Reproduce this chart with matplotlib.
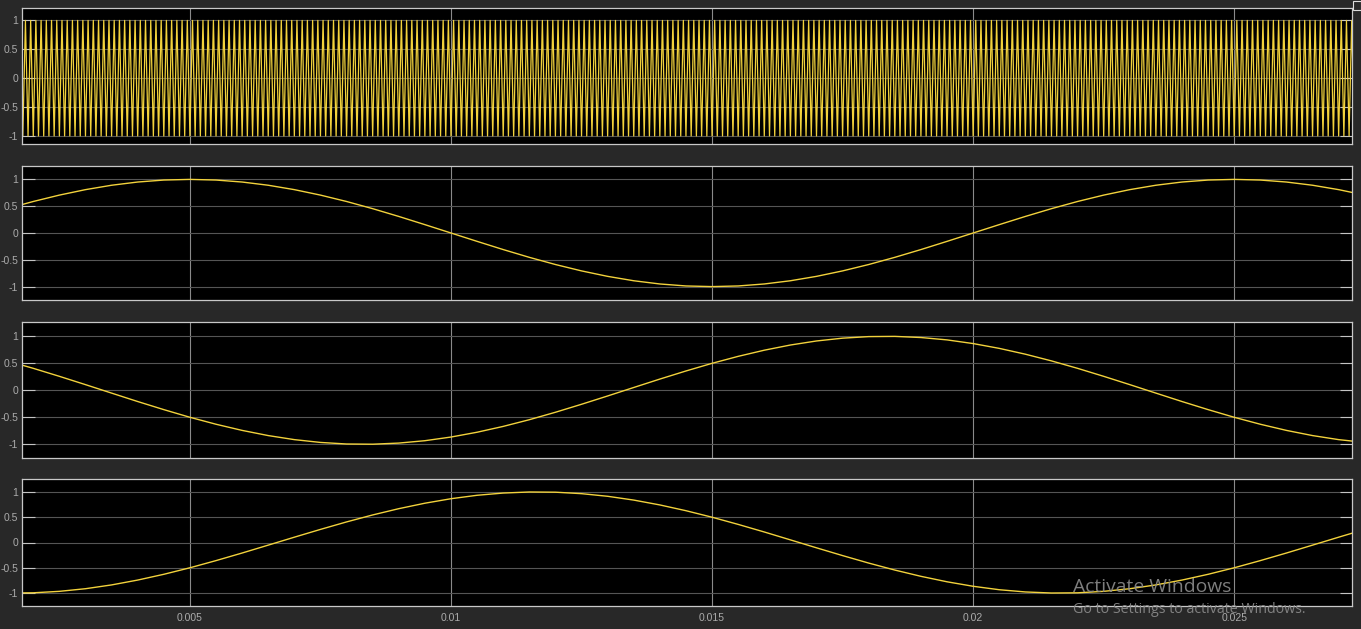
import numpy as np
import matplotlib
matplotlib.use("Agg")
from matplotlib import pyplot as plt
from matplotlib.patches import Rectangle

# sample times of the three phase signals (s), one every 0.5 ms
t = np.arange(1.5, 28.0, 0.5) * 1e-3

# phase a (panel 2)
va = [0.454, 0.588, 0.707, 0.809, 0.891, 0.951, 0.988, 1.000, 0.988, 0.951,
      0.891, 0.809, 0.707, 0.588, 0.454, 0.309, 0.156, 0.000,
      -0.156, -0.309, -0.454, -0.588, -0.707, -0.809, -0.891, -0.951, -0.988, -1.000,
      -0.988, -0.951, -0.891, -0.809, -0.707, -0.588, -0.454, -0.309, -0.156, 0.000,
      0.156, 0.309, 0.454, 0.588, 0.707, 0.809, 0.891, 0.951, 0.988, 1.000,
      0.988, 0.951, 0.891, 0.809, 0.707]
# phase c (panel 3)
vc = [0.545, 0.407, 0.259, 0.105, -0.052, -0.208, -0.358, -0.500, -0.629, -0.743,
      -0.839, -0.914, -0.966, -0.995, -0.999, -0.978, -0.934, -0.866, -0.777, -0.669,
      -0.545, -0.407, -0.259, -0.105, 0.052, 0.208, 0.358, 0.500, 0.629, 0.743,
      0.839, 0.914, 0.966, 0.995, 0.999, 0.978, 0.934, 0.866, 0.777, 0.669,
      0.545, 0.407, 0.259, 0.105, -0.052, -0.208, -0.358, -0.500, -0.629, -0.743,
      -0.839, -0.914, -0.966]
# phase b (panel 4)
vb = [-0.999, -0.995, -0.966, -0.914, -0.839, -0.743, -0.629, -0.500, -0.358, -0.208,
      -0.052, 0.105, 0.259, 0.407, 0.545, 0.669, 0.777, 0.866, 0.934, 0.978,
      0.999, 0.995, 0.966, 0.914, 0.839, 0.743, 0.629, 0.500, 0.358, 0.208,
      0.052, -0.105, -0.259, -0.407, -0.545, -0.669, -0.777, -0.866, -0.934, -0.978,
      -0.999, -0.995, -0.966, -0.914, -0.839, -0.743, -0.629, -0.500, -0.358, -0.208,
      -0.052, 0.105, 0.259]

# triangle carrier (panel 1): ~10 kHz, peaks at +1 / -1
carrier_period = 1e-4
carrier_t = np.arange(0.0, 0.028, carrier_period / 2)
carrier_v = np.resize([-1.0, 1.0], len(carrier_t))

xticks = [0.005, 0.01, 0.015, 0.02, 0.025]
xticklabels = ['0.005', '0.01', '0.015', '0.02', '0.025']
yticks = [-1, -0.5, 0, 0.5, 1]
yticklabels = ['-1', '-0.5', '0', '0.5', '1']

W, H = 1361, 629
bg = '#282828'
line_col = '#f2d23c'

plt.rcParams['axes.unicode_minus'] = False
plt.rcParams['font.family'] = ['Liberation Sans', 'DejaVu Sans']

fig = plt.figure(figsize=(W / 100, H / 100), dpi=100, facecolor=bg)

# axes boxes in pixels: (top, bottom)
boxes = [(8.3, 144.0), (166.0, 300.0), (322.3, 458.3), (479.3, 605.7)]
ylims = [(-1.14, 1.21), (-1.25, 1.25), (-1.26, 1.26), (-1.25, 1.25)]
left_px, right_px = 22.3, 1351.7

series = [(carrier_t, carrier_v), (t, va), (t, vc), (t, vb)]

for i, ((top, bot), yl, (xs, ys)) in enumerate(zip(boxes, ylims, series)):
    ax = fig.add_axes([left_px / W, 1 - bot / H, (right_px - left_px) / W, (bot - top) / H])
    ax.set_facecolor('black')
    ax.plot(xs, ys, color=line_col, lw=1.0 if i else 0.9)
    ax.set_xlim(0.00179, 0.02725)
    ax.set_ylim(*yl)
    ax.set_xticks(xticks)
    ax.set_yticks(yticks)
    ax.set_yticklabels(yticklabels)
    if i == 3:
        ax.set_xticklabels(xticklabels)
    else:
        ax.set_xticklabels([])
    ax.xaxis.grid(True, color='#8a8a8a', lw=0.8)
    ax.yaxis.grid(True, color='#555555', lw=0.8)
    ax.set_axisbelow(True)
    ax.tick_params(axis='y', direction='in', length=9, width=0.8, color='#c4c4c4',
                   labelcolor='#ababab', labelsize=7.5, pad=3, right=True)
    ax.tick_params(axis='x', direction='in', length=0, labelcolor='#ababab',
                   labelsize=7.5, pad=5)
    for s in ax.spines.values():
        s.set_color('#c8c8c8')
        s.set_linewidth(0.9)

# small icon in the top right corner
fig.add_artist(Rectangle((1352.5 / W, 1 - 10 / H), 8 / W, 9 / H, transform=fig.transFigure,
                         facecolor='none', edgecolor='#dddddd', lw=0.8))

# windows watermark
fig.text(1073 / W, 1 - 592 / H, 'Activate Windows', color='#8c8c8c', fontsize=13.9,
         family=['Open Sans', 'DejaVu Sans'], alpha=0.9)
fig.text(1073 / W, 1 - 613 / H, 'Go to Settings to activate Windows.', color='#8c8c8c',
         fontsize=10.3, family=['Open Sans', 'DejaVu Sans'], alpha=0.9)

fig.savefig('out.png', dpi=100, facecolor=bg)
